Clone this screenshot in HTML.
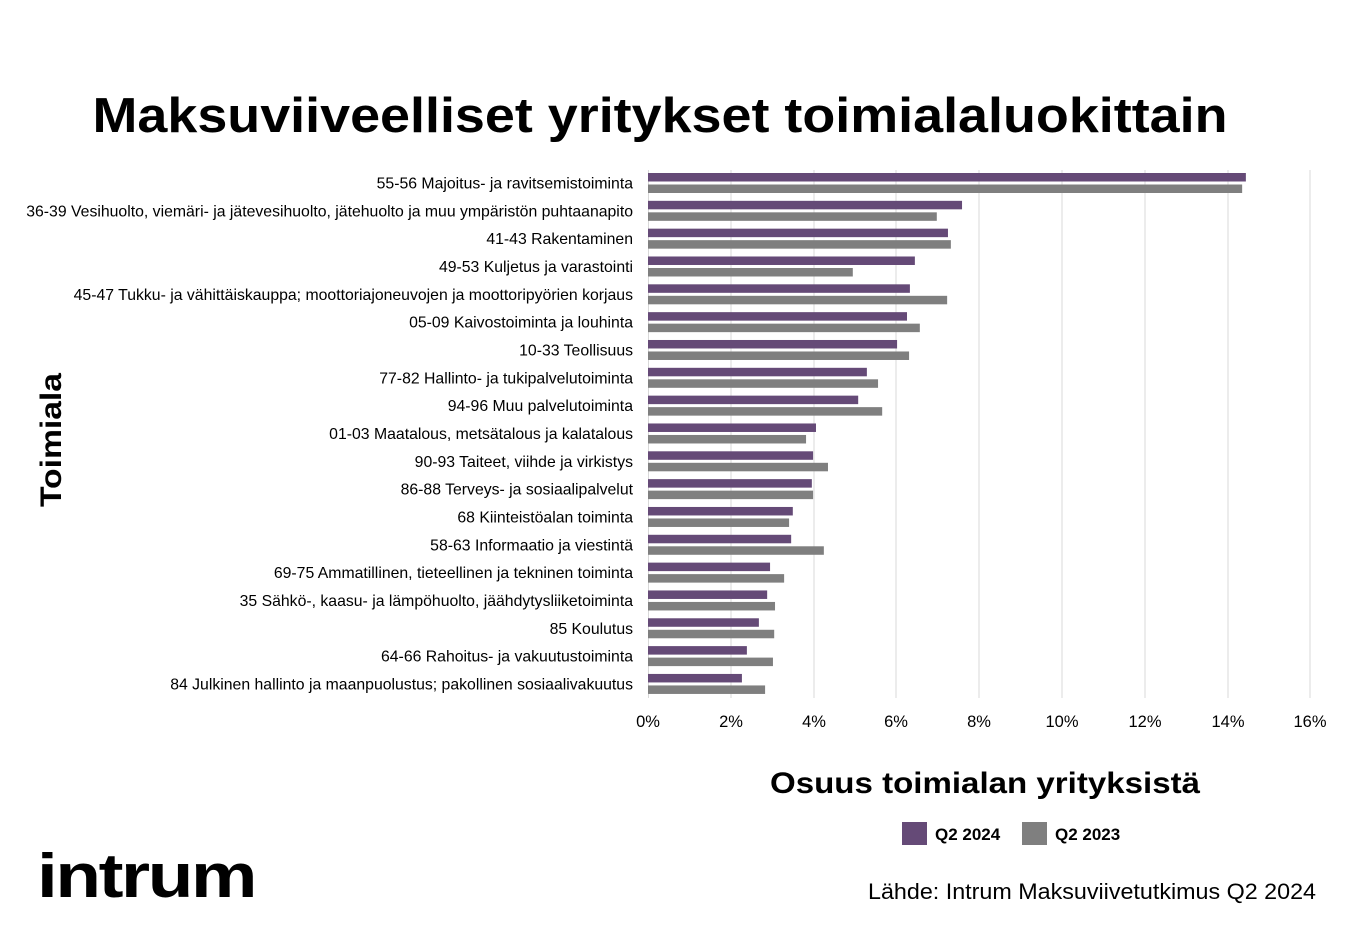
<!DOCTYPE html>
<html><head><meta charset="utf-8"><style>
body{margin:0;background:#fff;}
svg{display:block;font-family:"Liberation Sans",sans-serif;}
</style></head><body>
<svg width="1350" height="948" viewBox="0 0 1350 948">
<rect width="1350" height="948" fill="#fff"/>
<text x="660" y="132" text-anchor="middle" font-size="49" font-weight="bold" fill="#000" textLength="1135" lengthAdjust="spacingAndGlyphs">Maksuviiveelliset yritykset toimialaluokittain</text>
<g stroke="#d9d9d9" stroke-width="1">
<line x1="731" y1="170" x2="731" y2="698"/><line x1="814" y1="170" x2="814" y2="698"/><line x1="896" y1="170" x2="896" y2="698"/><line x1="979" y1="170" x2="979" y2="698"/><line x1="1062" y1="170" x2="1062" y2="698"/><line x1="1145" y1="170" x2="1145" y2="698"/><line x1="1228" y1="170" x2="1228" y2="698"/><line x1="1310" y1="170" x2="1310" y2="698"/>
</g>
<line x1="648.5" y1="170" x2="648.5" y2="698" stroke="#d9d9d9"/>
<g id="bars"></g>
<g id="labels" font-size="15.8" fill="#000" text-anchor="end"></g>
<g font-size="16.5" fill="#000" text-anchor="middle">
<text x="648" y="727">0%</text><text x="731" y="727">2%</text><text x="814" y="727">4%</text><text x="896" y="727">6%</text><text x="979" y="727">8%</text><text x="1062" y="727">10%</text><text x="1145" y="727">12%</text><text x="1228" y="727">14%</text><text x="1310" y="727">16%</text>
</g>
<text x="985" y="793" text-anchor="middle" font-size="30" font-weight="bold" fill="#000" textLength="430" lengthAdjust="spacingAndGlyphs">Osuus toimialan yrityksistä</text>
<text transform="translate(61,440) rotate(-90)" text-anchor="middle" font-size="30" font-weight="bold" fill="#000" textLength="134" lengthAdjust="spacingAndGlyphs">Toimiala</text>
<rect x="902" y="822" width="25" height="23" fill="#654a77"/>
<text x="935" y="840" font-size="17" font-weight="bold">Q2 2024</text>
<rect x="1022" y="822" width="25" height="23" fill="#7f7f7f"/>
<text x="1055" y="840" font-size="17" font-weight="bold">Q2 2023</text>
<text x="37" y="897" font-size="62" font-weight="bold" fill="#000" textLength="218" lengthAdjust="spacingAndGlyphs" letter-spacing="-2">intrum</text>
<text x="1316" y="899" text-anchor="end" font-size="22" fill="#000" textLength="448" lengthAdjust="spacingAndGlyphs">Lähde: Intrum Maksuviivetutkimus Q2 2024</text>
</svg>
<script>
var d=[["55-56 Majoitus- ja ravitsemistoiminta",14.45,14.36],
["36-39 Vesihuolto, viemäri- ja jätevesihuolto, jätehuolto ja muu ympäristön puhtaanapito",7.59,6.98],
["41-43 Rakentaminen",7.25,7.32],
["49-53 Kuljetus ja varastointi",6.45,4.95],
["45-47 Tukku- ja vähittäiskauppa; moottoriajoneuvojen ja moottoripyörien korjaus",6.33,7.23],
["05-09 Kaivostoiminta ja louhinta",6.26,6.57],
["10-33 Teollisuus",6.02,6.31],
["77-82 Hallinto- ja tukipalvelutoiminta",5.29,5.56],
["94-96 Muu palvelutoiminta",5.08,5.66],
["01-03 Maatalous, metsätalous ja kalatalous",4.06,3.82],
["90-93 Taiteet, viihde ja virkistys",3.99,4.35],
["86-88 Terveys- ja sosiaalipalvelut",3.96,3.99],
["68 Kiinteistöalan toiminta",3.5,3.41],
["58-63 Informaatio ja viestintä",3.46,4.25],
["69-75 Ammatillinen, tieteellinen ja tekninen toiminta",2.95,3.29],
["35 Sähkö-, kaasu- ja lämpöhuolto, jäähdytysliiketoiminta",2.88,3.07],
["85 Koulutus",2.68,3.05],
["64-66 Rahoitus- ja vakuutustoiminta",2.39,3.02],
["84 Julkinen hallinto ja maanpuolustus; pakollinen sosiaalivakuutus",2.27,2.83]];
var ns="http://www.w3.org/2000/svg",b=document.getElementById("bars"),l=document.getElementById("labels");
var s=41.375;
d.forEach(function(r,i){
 var y=173+i*27.83;
 var a=document.createElementNS(ns,"rect");a.setAttribute("x",648);a.setAttribute("y",y);a.setAttribute("width",r[1]*s);a.setAttribute("height",8.5);a.setAttribute("fill","#654a77");b.appendChild(a);
 var g=document.createElementNS(ns,"rect");g.setAttribute("x",648);g.setAttribute("y",y+11.5);g.setAttribute("width",r[2]*s);g.setAttribute("height",8.5);g.setAttribute("fill","#7f7f7f");b.appendChild(g);
 var t=document.createElementNS(ns,"text");t.setAttribute("x",633);t.setAttribute("y",y+15.5);t.textContent=r[0];l.appendChild(t);
});
</script>
</body></html>
